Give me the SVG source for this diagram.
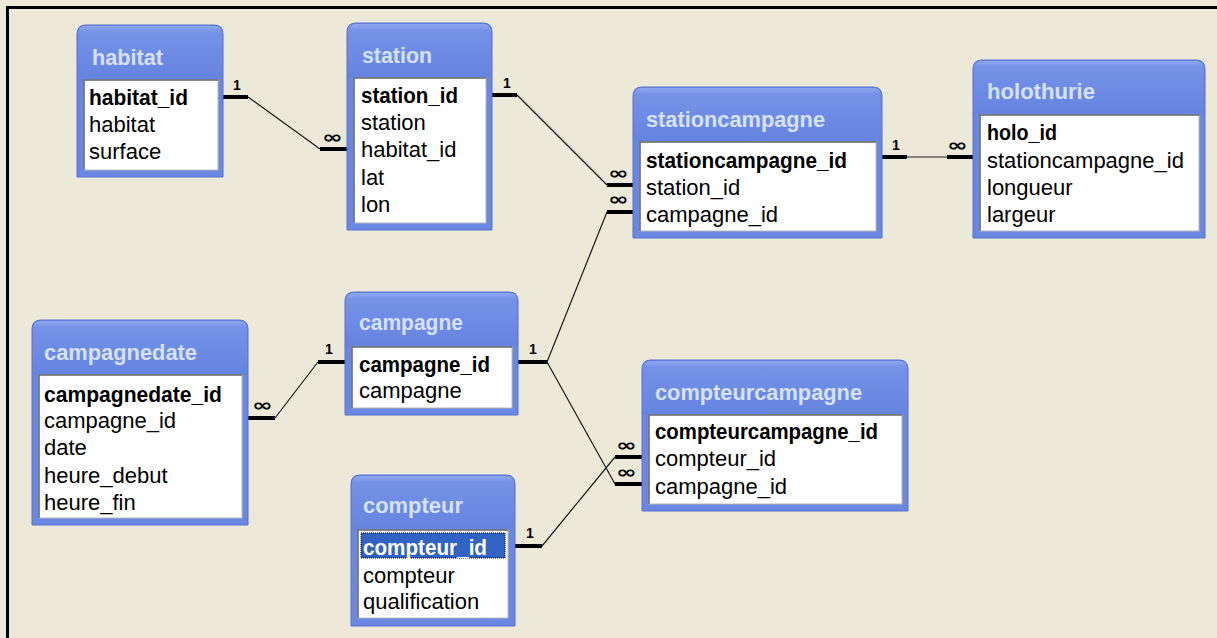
<svg xmlns="http://www.w3.org/2000/svg" width="1217" height="638" viewBox="0 0 1217 638">
<defs>
<linearGradient id="hdr" x1="0" y1="0" x2="0" y2="1">
<stop offset="0" stop-color="#8EA7EF"/>
<stop offset="0.12" stop-color="#7592E8"/>
<stop offset="1" stop-color="#6584DF"/>
</linearGradient>
<style>
.frame{fill:#6A87E2;stroke:#5470D6;stroke-width:1}
.head{fill:url(#hdr)}
.inner{fill:#fff;stroke:#B8B8B8;stroke-width:1}
.sunk{stroke:#6E6E6E;stroke-width:1.5;fill:none}
.title{font-family:"Liberation Sans",Arial,sans-serif;font-size:22px;font-weight:bold;fill:#D6E2FA}
.row{font-family:"Liberation Sans",Arial,sans-serif;font-size:22px;fill:#000}
.key{font-weight:bold}
.sel{fill:#fff;font-weight:bold}
.bar{fill:#000}
.ln{stroke:#1A1A1A;stroke-width:1.2;fill:none}
.one{font-family:"Liberation Sans",Arial,sans-serif;font-size:14px;font-weight:bold;fill:#000;text-anchor:middle}
.many{font-family:"DejaVu Sans",sans-serif;font-size:17px;font-weight:bold;fill:#000}
</style>
</defs>
<rect x="0" y="0" width="1217" height="638" fill="#ECE9D8"/>
<rect x="6" y="6" width="1211" height="3" fill="#000"/>
<rect x="6" y="6" width="3" height="632" fill="#000"/>

<g id="connectors">
<!-- habitat -> station -->
<rect class="bar" x="223" y="95" width="25" height="4"/>
<text class="one" x="237" y="90">1</text>
<line class="ln" x1="248" y1="97" x2="320" y2="149"/>
<rect class="bar" x="320" y="147" width="27" height="4"/>
<text class="many" x="322" y="143" textLength="21" lengthAdjust="spacingAndGlyphs">∞</text>
<!-- station -> stationcampagne -->
<rect class="bar" x="492" y="93" width="25" height="4"/>
<text class="one" x="507" y="88">1</text>
<line class="ln" x1="517" y1="95" x2="607" y2="185"/>
<rect class="bar" x="607" y="183" width="26" height="4"/>
<text class="many" x="608" y="179" textLength="21" lengthAdjust="spacingAndGlyphs">∞</text>
<!-- stationcampagne -> holothurie -->
<rect class="bar" x="882" y="155" width="25" height="4"/>
<text class="one" x="896" y="150">1</text>
<line class="ln" x1="907" y1="157" x2="947" y2="157"/>
<rect class="bar" x="947" y="155" width="26" height="4"/>
<text class="many" x="947" y="151" textLength="21" lengthAdjust="spacingAndGlyphs">∞</text>
<!-- campagne -> stationcampagne -->
<rect class="bar" x="518" y="360" width="29" height="4"/>
<text class="one" x="533" y="354">1</text>
<line class="ln" x1="547" y1="362" x2="607" y2="212"/>
<rect class="bar" x="607" y="210" width="26" height="4"/>
<text class="many" x="608" y="205" textLength="21" lengthAdjust="spacingAndGlyphs">∞</text>
<!-- campagne -> campagnedate -->
<rect class="bar" x="318" y="360" width="27" height="4"/>
<text class="one" x="329" y="354">1</text>
<line class="ln" x1="318" y1="362" x2="275" y2="418"/>
<rect class="bar" x="248" y="416" width="27" height="4"/>
<text class="many" x="252" y="411" textLength="21" lengthAdjust="spacingAndGlyphs">∞</text>
<!-- campagne -> compteurcampagne -->
<line class="ln" x1="547" y1="362" x2="615" y2="484"/>
<rect class="bar" x="615" y="482" width="27" height="4"/>
<text class="many" x="616" y="478" textLength="21" lengthAdjust="spacingAndGlyphs">∞</text>
<!-- compteur -> compteurcampagne -->
<rect class="bar" x="515" y="544" width="27" height="4"/>
<text class="one" x="530" y="538">1</text>
<line class="ln" x1="542" y1="546" x2="615" y2="457"/>
<rect class="bar" x="615" y="455" width="27" height="4"/>
<text class="many" x="616" y="451" textLength="21" lengthAdjust="spacingAndGlyphs">∞</text>
</g>

<g id="habitat">
<path class="frame" d="M77,177 V34 Q77,25 86,25 H214 Q223,25 223,34 V177 Z"/>
<path class="head" d="M78,80 V34 Q78,26 86,26 H214 Q222,26 222,34 V80 Z"/>
<rect class="inner" x="84" y="80" width="134" height="90"/>
<path class="sunk" d="M84,170 V80 H218"/>
<text class="title" x="92" y="65" textLength="71" lengthAdjust="spacingAndGlyphs">habitat</text>
<text class="row key" x="89" y="105" textLength="99" lengthAdjust="spacingAndGlyphs">habitat_id</text>
<text class="row" x="89" y="132">habitat</text>
<text class="row" x="89" y="159">surface</text>
</g>

<g id="station">
<path class="frame" d="M347,230 V32 Q347,23 356,23 H483 Q492,23 492,32 V230 Z"/>
<path class="head" d="M348,78 V32 Q348,24 356,24 H483 Q491,24 491,32 V78 Z"/>
<rect class="inner" x="354" y="78" width="132" height="145"/>
<path class="sunk" d="M354,223 V78 H486"/>
<text class="title" x="362" y="63" textLength="70" lengthAdjust="spacingAndGlyphs">station</text>
<text class="row key" x="361" y="103" textLength="97" lengthAdjust="spacingAndGlyphs">station_id</text>
<text class="row" x="361" y="130">station</text>
<text class="row" x="361" y="157">habitat_id</text>
<text class="row" x="361" y="185">lat</text>
<text class="row" x="361" y="212">lon</text>
</g>

<g id="stationcampagne">
<path class="frame" d="M633,238 V96 Q633,87 642,87 H873 Q882,87 882,96 V238 Z"/>
<path class="head" d="M634,142 V96 Q634,88 642,88 H873 Q881,88 881,96 V142 Z"/>
<rect class="inner" x="640" y="142" width="236" height="89"/>
<path class="sunk" d="M640,231 V142 H876"/>
<text class="title" x="646" y="127" textLength="179" lengthAdjust="spacingAndGlyphs">stationcampagne</text>
<text class="row key" x="646" y="168" textLength="201" lengthAdjust="spacingAndGlyphs">stationcampagne_id</text>
<text class="row" x="646" y="195">station_id</text>
<text class="row" x="646" y="222">campagne_id</text>
</g>

<g id="holothurie">
<path class="frame" d="M973,238 V69 Q973,60 982,60 H1196 Q1205,60 1205,69 V238 Z"/>
<path class="head" d="M974,115 V69 Q974,61 982,61 H1196 Q1204,61 1204,69 V115 Z"/>
<rect class="inner" x="980" y="115" width="219" height="116"/>
<path class="sunk" d="M980,231 V115 H1199"/>
<text class="title" x="987" y="99" textLength="108" lengthAdjust="spacingAndGlyphs">holothurie</text>
<text class="row key" x="987" y="140" textLength="70" lengthAdjust="spacingAndGlyphs">holo_id</text>
<text class="row" x="987" y="168">stationcampagne_id</text>
<text class="row" x="987" y="195">longueur</text>
<text class="row" x="987" y="222">largeur</text>
</g>

<g id="campagnedate">
<path class="frame" d="M32,525 V329 Q32,320 41,320 H239 Q248,320 248,329 V525 Z"/>
<path class="head" d="M33,375 V329 Q33,321 41,321 H239 Q247,321 247,329 V375 Z"/>
<rect class="inner" x="39" y="375" width="203" height="143"/>
<path class="sunk" d="M39,518 V375 H242"/>
<text class="title" x="44" y="360" textLength="153" lengthAdjust="spacingAndGlyphs">campagnedate</text>
<text class="row key" x="44" y="402" textLength="178" lengthAdjust="spacingAndGlyphs">campagnedate_id</text>
<text class="row" x="44" y="428">campagne_id</text>
<text class="row" x="44" y="455">date</text>
<text class="row" x="44" y="483">heure_debut</text>
<text class="row" x="44" y="510">heure_fin</text>
</g>

<g id="campagne">
<path class="frame" d="M345,415 V301 Q345,292 354,292 H509 Q518,292 518,301 V415 Z"/>
<path class="head" d="M346,347 V301 Q346,293 354,293 H509 Q517,293 517,301 V347 Z"/>
<rect class="inner" x="352" y="347" width="160" height="61"/>
<path class="sunk" d="M352,408 V347 H512"/>
<text class="title" x="359" y="330" textLength="104" lengthAdjust="spacingAndGlyphs">campagne</text>
<text class="row key" x="359" y="372" textLength="131" lengthAdjust="spacingAndGlyphs">campagne_id</text>
<text class="row" x="359" y="398">campagne</text>
</g>

<g id="compteurcampagne">
<path class="frame" d="M642,511 V369 Q642,360 651,360 H899 Q908,360 908,369 V511 Z"/>
<path class="head" d="M643,415 V369 Q643,361 651,361 H899 Q907,361 907,369 V415 Z"/>
<rect class="inner" x="649" y="415" width="253" height="89"/>
<path class="sunk" d="M649,504 V415 H902"/>
<text class="title" x="655" y="400" textLength="207" lengthAdjust="spacingAndGlyphs">compteurcampagne</text>
<text class="row key" x="655" y="439" textLength="223" lengthAdjust="spacingAndGlyphs">compteurcampagne_id</text>
<text class="row" x="655" y="466">compteur_id</text>
<text class="row" x="655" y="494">campagne_id</text>
</g>

<g id="compteur">
<path class="frame" d="M351,626 V484 Q351,475 360,475 H506 Q515,475 515,484 V626 Z"/>
<path class="head" d="M352,530 V484 Q352,476 360,476 H506 Q514,476 514,484 V530 Z"/>
<rect class="inner" x="358" y="530" width="150" height="88"/>
<path class="sunk" d="M358,618 V530 H508"/>
<rect x="361" y="533" width="144" height="25" fill="#3163C5" stroke="#000" stroke-width="1" stroke-dasharray="1,1"/>
<text class="title" x="363" y="513" textLength="100" lengthAdjust="spacingAndGlyphs">compteur</text>
<text class="row sel" x="363" y="555" textLength="124" lengthAdjust="spacingAndGlyphs">compteur_id</text>
<text class="row" x="363" y="583">compteur</text>
<text class="row" x="363" y="609">qualification</text>
</g>
</svg>
